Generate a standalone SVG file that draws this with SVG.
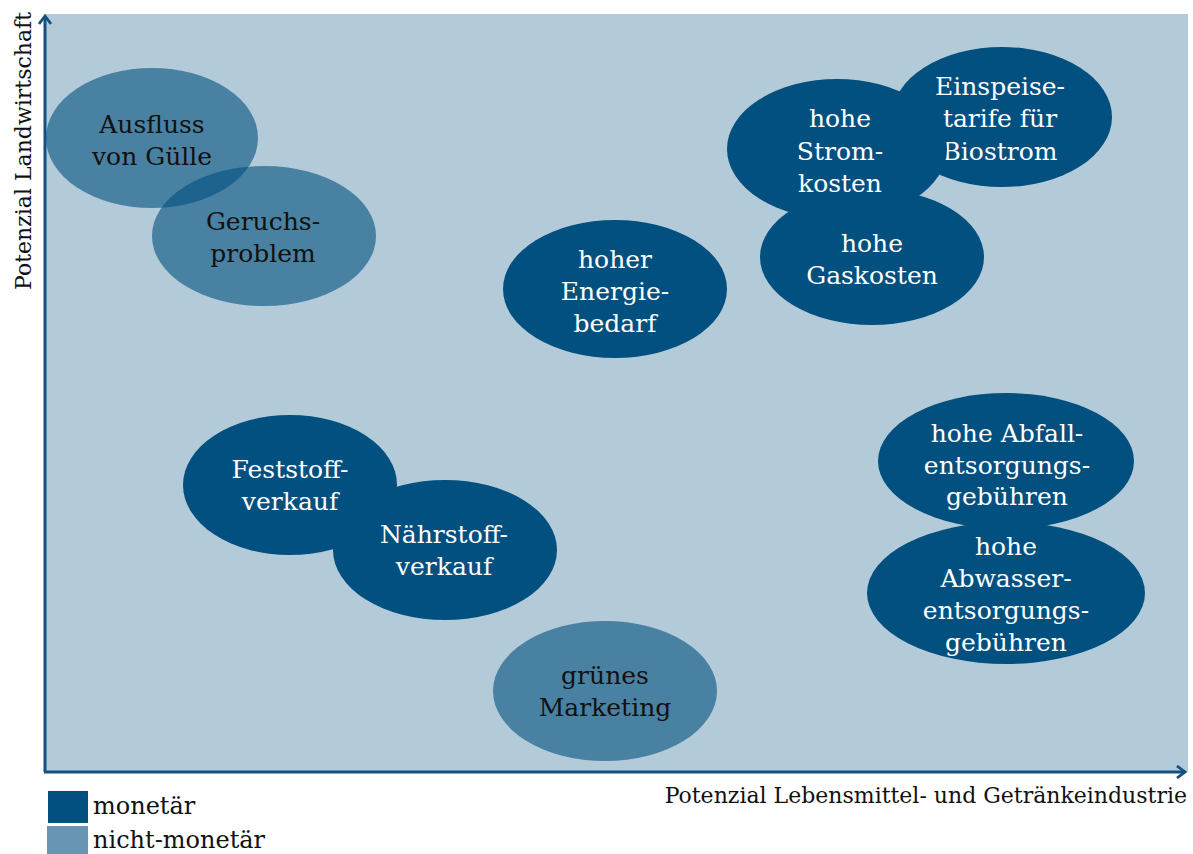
<svg xmlns="http://www.w3.org/2000/svg" width="1193" height="854" viewBox="0 0 1193 854">
  <defs>
    <style>
      .mon { fill: #02507f; }
      .nmon { fill: #02507f; fill-opacity: 0.6; }
      .lbl { font-family: "DejaVu Serif", "Liberation Serif", serif; font-size: 25px; text-anchor: middle; }
      .w { fill: #ffffff; }
      .k { fill: #111111; }
      .axis { stroke: #145082; stroke-width: 3; fill: none; }
      .axtxt { font-family: "DejaVu Serif", "Liberation Serif", serif; font-size: 22px; fill: #111111; }
      .leg { font-family: "DejaVu Serif", "Liberation Serif", serif; font-size: 24px; fill: #111111; }
    </style>
    <marker id="chev" viewBox="0 0 14 14" refX="11" refY="7" markerWidth="14" markerHeight="14" markerUnits="userSpaceOnUse" orient="auto">
      <path d="M3,1 L11,7 L3,13" fill="none" stroke="#145082" stroke-width="2.8"/>
    </marker>
  </defs>

  <rect x="0" y="0" width="1193" height="854" fill="#ffffff"/>
  <!-- plot area -->
  <rect x="45" y="14" width="1143" height="758" fill="#b3cad8"/>

  <!-- axes -->
  <g id="connectors">
    <line class="axis" x1="45" y1="772" x2="45" y2="16" marker-end="url(#chev)"/>
    <line class="axis" x1="44" y1="772" x2="1185" y2="772" marker-end="url(#chev)"/>
  </g>

  <text class="axtxt" x="1187" y="803" text-anchor="end">Potenzial Lebensmittel- und Getränkeindustrie</text>
  <text class="axtxt" transform="translate(31,290) rotate(-90)" x="0" y="0">Potenzial Landwirtschaft</text>

  <!-- non-monetary drivers -->
  <g id="ausfluss">
    <ellipse class="nmon" cx="152" cy="138" rx="106" ry="70"/>
    <text class="lbl k" x="152" y="133">Ausfluss</text>
    <text class="lbl k" x="152" y="165">von Gülle</text>
  </g>
  <g id="geruch">
    <ellipse class="nmon" cx="264" cy="236" rx="112" ry="70"/>
    <text class="lbl k" x="263" y="230">Geruchs-</text>
    <text class="lbl k" x="263" y="262">problem</text>
  </g>
  <g id="marketing">
    <ellipse class="nmon" cx="605" cy="691" rx="112" ry="70"/>
    <text class="lbl k" x="605" y="684">grünes</text>
    <text class="lbl k" x="605" y="716">Marketing</text>
  </g>

  <!-- monetary drivers -->
  <g id="energie">
    <ellipse class="mon" cx="615" cy="289" rx="112" ry="69"/>
    <text class="lbl w" x="615" y="268">hoher</text>
    <text class="lbl w" x="615" y="300">Energie-</text>
    <text class="lbl w" x="615" y="332">bedarf</text>
  </g>
  <g id="gas">
    <ellipse class="mon" cx="872" cy="257" rx="112" ry="68"/>
    <text class="lbl w" x="872" y="252">hohe</text>
    <text class="lbl w" x="872" y="284">Gaskosten</text>
  </g>
  <g id="einspeise">
    <ellipse class="mon" cx="1002" cy="117" rx="110" ry="70"/>
    <text class="lbl w" x="1000" y="95">Einspeise-</text>
    <text class="lbl w" x="1000" y="127">tarife für</text>
    <text class="lbl w" x="1000" y="160">Biostrom</text>
  </g>
  <g id="strom">
    <ellipse class="mon" cx="837" cy="149" rx="110" ry="70"/>
    <text class="lbl w" x="840" y="127">hohe</text>
    <text class="lbl w" x="840" y="160">Strom-</text>
    <text class="lbl w" x="840" y="192">kosten</text>
  </g>
  <g id="abfall">
    <ellipse class="mon" cx="1006" cy="461" rx="128" ry="68"/>
    <text class="lbl w" x="1007" y="442">hohe Abfall-</text>
    <text class="lbl w" x="1007" y="474">entsorgungs-</text>
    <text class="lbl w" x="1007" y="505">gebühren</text>
  </g>
  <g id="abwasser">
    <ellipse class="mon" cx="1006" cy="593" rx="139" ry="71"/>
    <text class="lbl w" x="1006" y="555">hohe</text>
    <text class="lbl w" x="1006" y="587">Abwasser-</text>
    <text class="lbl w" x="1006" y="619">entsorgungs-</text>
    <text class="lbl w" x="1006" y="651">gebühren</text>
  </g>
  <g id="feststoff">
    <ellipse class="mon" cx="290" cy="485" rx="107" ry="70"/>
    <text class="lbl w" x="290" y="478">Feststoff-</text>
    <text class="lbl w" x="290" y="510">verkauf</text>
  </g>
  <g id="naehrstoff">
    <ellipse class="mon" cx="445" cy="550" rx="112" ry="70"/>
    <text class="lbl w" x="444" y="543">Nährstoff-</text>
    <text class="lbl w" x="444" y="575">verkauf</text>
  </g>

  <!-- legend -->
  <g id="legend">
    <rect x="48" y="791" width="40" height="32" fill="#02507f"/>
    <rect x="47" y="826" width="41" height="28" fill="#6795b3"/>
    <text class="leg" x="93" y="814">monetär</text>
    <text class="leg" x="93" y="848">nicht-monetär</text>
  </g>
</svg>
